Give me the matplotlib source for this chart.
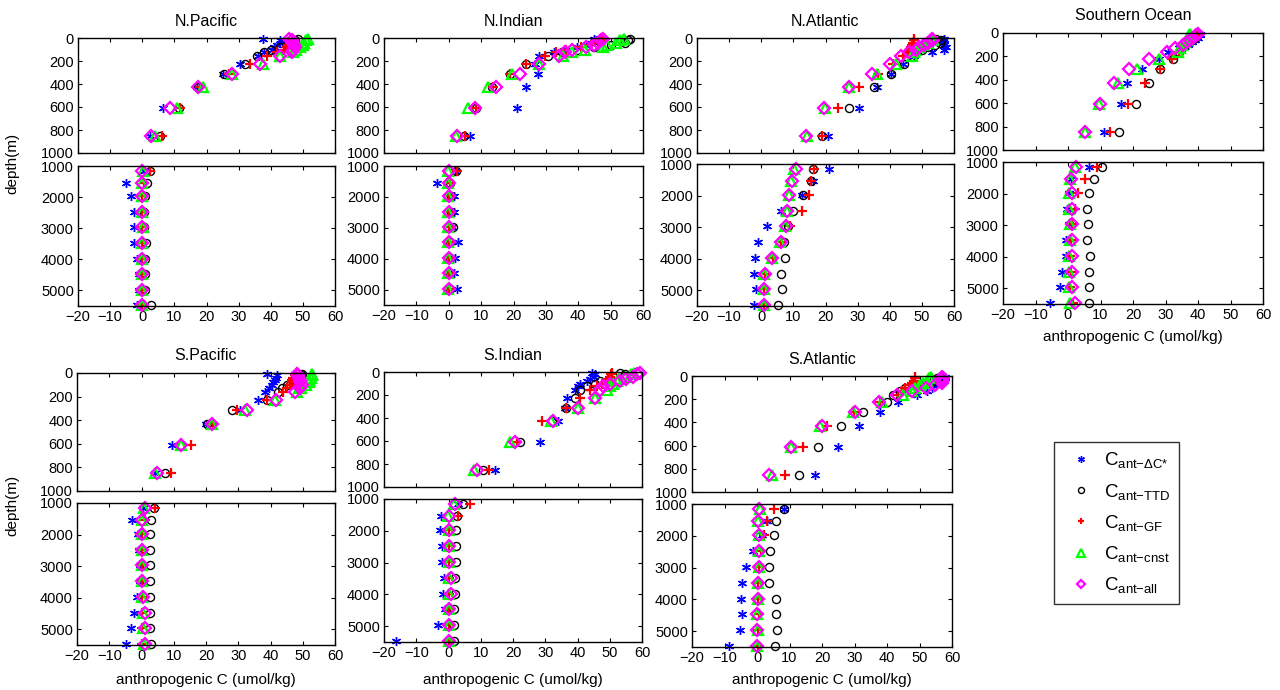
import numpy as np
import matplotlib
matplotlib.use('Agg')
import matplotlib.pyplot as plt
from matplotlib.lines import Line2D

plt.rcParams['font.family'] = ['Liberation Sans', 'DejaVu Sans']
plt.rcParams['mathtext.fontset'] = 'custom'
plt.rcParams['mathtext.rm'] = 'Liberation Sans'
plt.rcParams['mathtext.it'] = 'Liberation Sans:italic'

# depth levels (m)
depth = [5, 20, 40, 60, 80, 100, 125, 160, 225, 310, 430, 610, 850,
         1150, 1550, 1975, 2475, 2975, 3475, 3975, 4475, 4975, 5475]

regions = ['N.Pacific', 'N.Indian', 'N.Atlantic', 'Southern Ocean',
           'S.Pacific', 'S.Indian', 'S.Atlantic']

nan = np.nan

# Cant from delta C* method
cant_dcstar = {
    'N.Pacific': [37.6, 43, 43.5, 42, 41, 40.5, 38, 36, 30.5, 25, 17, 6.5, 2.4,
                  0.5, -5, -3.5, -2.5, -2.5, -2.5, -1.5, -1, -1, -1.5],
    'N.Indian': [45, 45.5, 44, 42.5, 39.5, 36, 32.5, 28, 26.5, 27.5, 24, 21.2, 6.5,
                 2, -3.6, 1.7, 1.5, 1, 2.9, 2, 1.5, 2.5, nan],
    'N.Atlantic': [57, 57, 56.5, 57, 57.5, 57, 53, 47.6, 44, 40.3, 36.1, 30.4, 20.9,
                   21, 16.2, 12.8, 6, 1.8, -1, -1.8, -2.2, -1.7, -2.2],
    'Southern Ocean': [40.5, 40.5, 40, 39, 38, 37, 34, 30.8, 28, 22.9, 18, 16.4, 11.1,
                       6.4, 1, 0.3, -0.3, 0.3, -0.5, -0.6, -1.7, -2.5, -5.5],
    'S.Pacific': [38.8, 41.9, 41.6, 41.4, 40.9, 40.4, 39.6, 38.3, 36.2, 30.5, 19.9, 9.5, 4.3,
                  0.5, -3, -1, -0.8, -0.5, -0.5, -1.5, -2.4, -3.4, -4.8],
    'S.Indian': [44.6, 45.5, 45, 44, 42.9, 40.8, 40, 39.3, 36.7, 36.2, 34.1, 28.4, 14.4,
                 3, -2.3, -2.6, -2.1, -2.1, -1.5, -1.6, -1, -3.4, -16.4],
    'S.Atlantic': [57.8, 57.8, 57.5, 56.3, 55, 53.7, 52.2, 49.1, 43.5, 37.9, 31.5, 24.8, 17.9,
                   8.4, 3, 1.5, -1.3, -3.3, -4.5, -5, -4.6, -5.3, -8.5],
}

# Cant from TTD method
cant_ttd = {
    'N.Pacific': [48.5, 47.5, 46, 45, 43, 40, 38, 35.6, 32, 25.5, 17.4, 11.4, 5.5,
                  2.5, 1.5, 1, 0.5, 0.5, 1.2, 1, 1, 1, 2.8],
    'N.Indian': [56, 55.5, 54.5, 50, 45, 39.5, 35, 30.7, 23.8, 18.8, 13.4, 8.5, 4.7,
                 2.2, 0.5, 0.8, 0.7, 1.3, 0.3, 0.3, 0.3, 0.3, nan],
    'N.Atlantic': [54.5, 56, 55.5, 54, 52, 50, 48.5, 47, 44.5, 40.3, 35.2, 27.4, 19,
                   16, 15.5, 13, 10, 8.2, 7.2, 7.3, 6.3, 6.6, 5.3],
    'Southern Ocean': [40, 39.5, 39, 38, 37, 36, 35, 34, 32.3, 28.4, 24.8, 21, 15.7,
                       10.6, 7.9, 6.4, 5.9, 6, 5.9, 6.9, 6.6, 6.4, 6.6],
    'S.Pacific': [49.7, 49.5, 49, 48, 46.5, 45, 43.5, 42.4, 38.8, 28, 20.4, 12.4, 7.2,
                  3.8, 2.8, 2.5, 2.5, 2.7, 2.6, 2.6, 2.7, 2.5, 2.8],
    'S.Indian': [53.3, 54.8, 54, 50, 47, 45.5, 43, 40.8, 39.3, 36.5, 32, 22.2, 10.8,
                 4.5, 2.5, 2.3, 2.4, 2.4, 2.1, 2.1, 1.6, 1.7, 1.7],
    'S.Atlantic': [56.3, 55.5, 54, 52, 49, 45.5, 44, 41.9, 40, 32.5, 25.9, 18.9, 12.8,
                   8.4, 5.8, 5.1, 4.1, 3.8, 3.8, 5.7, 5.8, 6, 5.5],
}

# Cant from Green's function method
cant_gf = {
    'N.Pacific': [47, 46.5, 46, 45.5, 45, 44, 42, 38.7, 33.5, 27, 18, 11.7, 6,
                  2.5, 0.5, 0, 0, 0, 0, 0, 0, 0, 0],
    'N.Indian': [47.4, 47, 46, 44, 41, 36.3, 33, 29.7, 23.8, 18.8, 13.7, 8.5, 4.9,
                 2.4, 0.5, 0, 0, 0, 0, 0, 0, 0, nan],
    'N.Atlantic': [47.5, 47.5, 47.3, 47, 46.5, 46, 45.5, 44, 41, 36.4, 30.4, 23.8, 19,
                   16.5, 15.5, 14.8, 12.8, 8.8, 6.2, 3.6, 1.2, 1, 1],
    'Southern Ocean': [40, 39.5, 38.5, 38, 37, 36, 35, 34, 32.1, 28.4, 23.6, 18.5, 13,
                       8.9, 5.3, 3, 2, 1.2, 0.8, 0.6, 0.8, 0.6, 1.5],
    'S.Pacific': [48, 47.5, 47.1, 46.8, 46.6, 46, 45, 44, 38.8, 29.7, 22.3, 15.2, 9,
                  4.2, 1.2, 0.2, 0.2, 0.2, 0.2, 0.2, 0.2, 0.2, 0.2],
    'S.Indian': [50.7, 50.5, 50, 49.5, 49.1, 47.5, 46, 43.9, 40.8, 36.5, 29, 21.1, 12.6,
                 6.7, 2.8, 0.2, 0.2, 0.2, 0.2, 0.2, 0.2, 0.2, 0.2],
    'S.Atlantic': [48.6, 48.6, 48.4, 47.6, 47, 45.5, 44.5, 43.5, 37.9, 29.7, 21.5, 14.3, 8.7,
                   5.3, 3.2, 2.2, 1.3, 0.6, 0.4, 0.3, 0.6, 0.3, 0.2],
}

# Cant assuming constant disequilibrium
cant_cnst = {
    'N.Pacific': [51.5, 51, 50.5, 50, 49, 48, 47, 43, 37.6, 28, 19, 10.7, 4,
                  0.3, 0, 0, 0, 0.2, 0, 0, 0, 0, 0],
    'N.Indian': [54, 53, 51.8, 49, 47.5, 42, 38, 35.3, 27.8, 19.6, 12.2, 6, 2.2,
                 -0.2, -0.2, -0.2, -0.2, -0.2, -0.2, -0.2, -0.2, -0.2, nan],
    'N.Atlantic': [53.5, 53, 52, 50.4, 49, 48, 47.5, 46.8, 42.1, 35.9, 27.3, 19.9, 14.2,
                   10.3, 9.4, 8.7, 8, 7.5, 5.7, 3.3, 0.9, 0.8, 0.9],
    'Southern Ocean': [37.4, 37.2, 37, 36.5, 36, 35, 34.5, 33.8, 28, 21.3, 15.4, 9.5, 5.1,
                       2, 0.5, 0.3, 0.2, 0.5, 0.5, 0.4, 0.3, 0.4, 0.7],
    'S.Pacific': [52.8, 52.8, 52.5, 52, 51.8, 51, 49.5, 48.1, 41.4, 32.1, 21.9, 12.4, 4.3,
                  0.8, 0, 0, 0, 0, 0.2, 0.3, 0.5, 0.5, 0.8],
    'S.Indian': [57.4, 56.5, 54.8, 53, 52.2, 51, 50, 49.1, 45.5, 40.3, 31.7, 19.1, 7.9,
                 1.7, -0.2, 0, 0.3, 0.3, 0.3, 0.3, 0.3, 0.3, 0.3],
    'S.Atlantic': [53.4, 53, 52.2, 51, 50.1, 48.5, 47.6, 44.8, 38.4, 29.5, 19.4, 10.5, 4.6,
                   1, 0.3, 0.6, 0.5, 0.5, 0.3, 0.2, 0.1, 0.2, 0.1],
}

# Cant using all tracers
cant_all = {
    'N.Pacific': [45.7, 46.5, 47, 47.2, 47.5, 47, 46.5, 42.8, 36.6, 27.8, 17.4, 8.6, 2.6,
                  0, 0, 0, 0, 0, 0, 0, 0, 0, 0],
    'N.Indian': [47.7, 47, 46, 45, 42.5, 38, 36, 34, 27.9, 22.1, 14.7, 8.2, 2.4,
                 0, 0, 0, 0, 0, 0, 0, 0, 0, nan],
    'N.Atlantic': [53.3, 53.5, 52, 50.7, 49, 48.1, 46, 43.4, 40, 34.6, 27.3, 19.4, 13.8,
                   10.7, 9.5, 8.7, 8.1, 7.6, 6, 3.5, 1.1, 0.9, 1],
    'Southern Ocean': [40, 39.5, 38.5, 37.5, 36.5, 35.4, 33, 30.5, 24.9, 18.8, 14.2, 9.7, 5.2,
                       2.5, 1, 1.1, 1.1, 1.2, 1.3, 1.2, 1.2, 1.2, 2.2],
    'S.Pacific': [48.1, 48.4, 48.7, 49, 49.2, 49.7, 49, 47.6, 41.7, 32.8, 22, 12.4, 4.9,
                  1.1, 0, 0, 0, 0, 0.1, 0.4, 1, 1.1, 1.1],
    'S.Indian': [59.5, 58.5, 57.2, 55, 53.3, 50, 48, 47, 45.3, 40.3, 32.3, 20.6, 8.7,
                 2, 0, 0.2, 0.2, 0.2, 0.7, 0.7, 0.2, 0.2, 0.3],
    'S.Atlantic': [56.8, 57.3, 57, 56.8, 54.7, 52, 47.8, 43.2, 37.5, 30, 19.9, 10.4, 3.6,
                   0.7, 0.3, 0.7, 0.7, 0.5, 0.3, 0.2, 0.1, 0.1, 0],
}

labels = [r'$\mathregular{C_{ant{-}\Delta C{*}}}$', r'$\mathregular{C_{ant{-}TTD}}$',
          r'$\mathregular{C_{ant{-}GF}}$', r'$\mathregular{C_{ant{-}cnst}}$',
          r'$\mathregular{C_{ant{-}all}}$']

styles = [
    dict(marker=(6, 2, 0), color='#0000ff', ms=6.5, mew=1.0),
    dict(marker='o', mfc='none', mec='k', ms=5.8, mew=1.0),
    dict(marker='+', color='#ff0000', ms=6.5, mew=1.6),
    dict(marker='^', mfc='none', mec='#00ff00', ms=7, mew=1.6),
    dict(marker='D', mfc='none', mec='#ff00ff', ms=5.8, mew=1.6),
]

W, H = 1280, 690
fig = plt.figure(figsize=(12.8, 6.9), dpi=100)

# panel boxes in pixels: left, right, upper top, upper bottom, lower top, lower bottom
boxes = {
    'N.Pacific': (78, 335, 38, 153, 166, 306),
    'N.Indian': (384, 643, 38, 153, 166, 305),
    'N.Atlantic': (697, 954, 38, 153, 164, 306),
    'Southern Ocean': (1003, 1263, 33, 150, 162, 304),
    'S.Pacific': (77, 335, 373, 491, 503, 645),
    'S.Indian': (384, 642, 372, 487, 499, 642),
    'S.Atlantic': (692, 952, 376, 492, 504, 647),
}


def px_axes(l, r, t, b):
    return fig.add_axes([l / W, 1 - b / H, (r - l) / W, (b - t) / H])


d = np.array(depth, dtype=float)
up = d < 1000
methods = [cant_dcstar, cant_ttd, cant_gf, cant_cnst, cant_all]

for reg in regions:
    l, r, t1, b1, t2, b2 = boxes[reg]
    ax1 = px_axes(l, r, t1, b1)
    ax2 = px_axes(l, r, t2, b2)
    for m, st in zip(methods, styles):
        v = np.array(m[reg], dtype=float)
        ax1.plot(v[up], d[up], ls='none', clip_on=False, **st)
        ax2.plot(v[~up], d[~up], ls='none', clip_on=False, **st)
    for ax in (ax1, ax2):
        ax.set_xlim(-20, 60)
        ax.set_xticks(range(-20, 61, 10))
        ax.tick_params(direction='in', top=True, right=True, length=3,
                       labelsize=10.5, width=0.8, pad=3)
        for s in ax.spines.values():
            s.set_linewidth(1.0)
    ax1.set_ylim(1000, 0)
    ax1.set_yticks(range(0, 1001, 200))
    ax1.tick_params(labelbottom=False)
    ax2.set_ylim(5500, 1000)
    ax2.set_yticks(range(1000, 5001, 1000))
    ax1.set_title(reg, fontsize=11.5, pad=9)

# axis labels
fig.text(12 / W, 1 - 163 / H, 'depth(m)', rotation=90, ha='center', va='center', fontsize=11)
fig.text(12 / W, 1 - 505 / H, 'depth(m)', rotation=90, ha='center', va='center', fontsize=11)
for reg in ['Southern Ocean', 'S.Pacific', 'S.Indian', 'S.Atlantic']:
    l, r, t1, b1, t2, b2 = boxes[reg]
    y = 337 if reg == 'Southern Ocean' else 680
    fig.text((l + r) / 2 / W, 1 - y / H, 'anthropogenic C (umol/kg)',
             ha='center', va='center', fontsize=11)

leg_styles = [dict(st, ms=st['ms'] * 0.75) for st in styles]
handles = [Line2D([], [], ls='none', **st) for st in leg_styles]
leg = fig.legend(handles, labels, loc='upper left', mode='expand',
                 bbox_to_anchor=(1054 / W, 1 - 600 / H, 125 / W, 158 / H),
                 fontsize=13.5, frameon=True, fancybox=False, edgecolor='k',
                 labelspacing=0.6, handlelength=2.0, borderpad=0.45,
                 handletextpad=0.2, borderaxespad=0)
leg.get_frame().set_linewidth(1.0)

fig.savefig('out.png', dpi=100)
